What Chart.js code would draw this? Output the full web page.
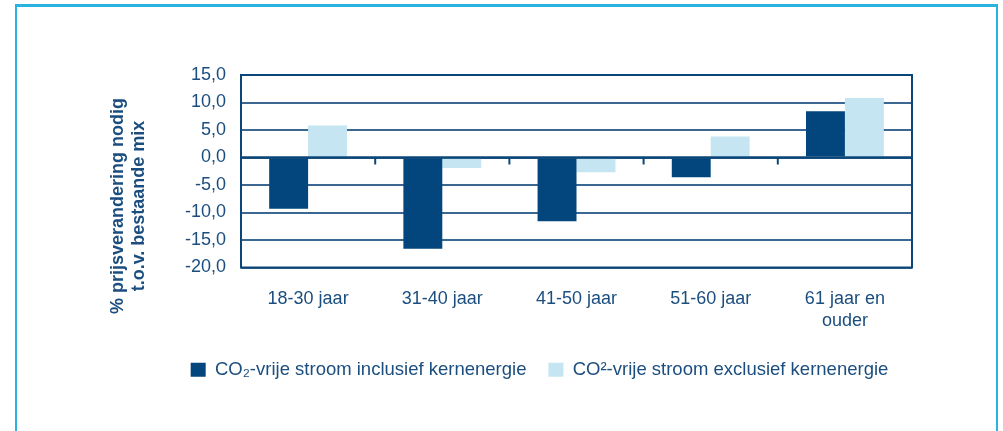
<!DOCTYPE html>
<html>
<head>
<meta charset="utf-8">
<script src="https://cdn.jsdelivr.net/npm/chart.js@4/dist/chart.umd.min.js"></script>
<style>
    body { margin: 0; background: #fff; }
    #wrap { position: relative; width: 1003px; height: 431px; }
    #frame {
        position: absolute; left: 15px; top: 4px; width: 983px; height: 427px;
        border-top: 3px solid #2bb3df; border-left: 2px solid #2bb3df; border-right: 2px solid #2bb3df;
        box-sizing: border-box;
    }
    #chart { position: absolute; left: 0; top: 0; }
</style>
</head>
<body>
<div id="wrap">
    <div id="frame"></div>
    <canvas id="chart" width="1003" height="431"></canvas>
</div>
<script>
const ageGroups = [['18-30 jaar'], ['31-40 jaar'], ['41-50 jaar'], ['51-60 jaar'], ['61 jaar en', 'ouder']];
const inclNuclear = [-9.3, -16.6, -11.6, -3.6, 8.4];
const exclNuclear = [5.8, -1.9, -2.7, 3.8, 10.8];
const seriesNames = ['CO\u2082-vrije stroom inclusief kernenergie', 'CO\u00b2-vrije stroom exclusief kernenergie'];
const yTitle = ['% prijsverandering nodig', 't.o.v. bestaande mix'];

const textColor = '#1b4e7f';
const lineColor = '#0b4679';
const fontFamily = '"Liberation Sans", Arial, sans-serif';

// zero line, plot frame, little ticks between the groups and the rotated y title
const extras = {
    id: 'extras',
    afterDatasetsDraw(chart) {
        const {ctx, chartArea: a, scales: {x, y}} = chart;
        const y0 = y.getPixelForValue(0);
        ctx.save();
        ctx.strokeStyle = lineColor;
        ctx.lineWidth = 2.5;
        ctx.beginPath();
        ctx.moveTo(a.left, y0);
        ctx.lineTo(a.right, y0);
        ctx.stroke();
        ctx.lineWidth = 2;
        for (let i = 0; i < ageGroups.length - 1; i++) {
            const bx = (x.getPixelForValue(i) + x.getPixelForValue(i + 1)) / 2;
            ctx.beginPath();
            ctx.moveTo(bx, y0);
            ctx.lineTo(bx, y0 + 7);
            ctx.stroke();
        }
        ctx.strokeRect(a.left, a.top, a.right - a.left, a.bottom - a.top);

        ctx.fillStyle = textColor;
        ctx.font = 'bold 18px ' + fontFamily;
        ctx.textAlign = 'center';
        ctx.textBaseline = 'middle';
        ctx.translate(0, 206);
        ctx.rotate(-Math.PI / 2);
        ctx.fillText(yTitle[0], 0, 118);
        ctx.fillText(yTitle[1], 0, 139);
        ctx.restore();
    }
};

new Chart(document.getElementById('chart'), {
    type: 'bar',
    data: {
        labels: ageGroups,
        datasets: [{
            label: seriesNames[0],
            data: inclNuclear,
            backgroundColor: '#02467d',
            categoryPercentage: 0.58,
            barPercentage: 1
        }, {
            label: seriesNames[1],
            data: exclNuclear,
            backgroundColor: '#c4e5f1',
            categoryPercentage: 0.58,
            barPercentage: 1
        }]
    },
    options: {
        responsive: false,
        animation: false,
        layout: {
            padding: {left: 167, right: 91, top: 75, bottom: 42}
        },
        plugins: {
            tooltip: {enabled: false},
            legend: {
                position: 'bottom',
                labels: {
                    boxWidth: 15,
                    boxHeight: 14,
                    padding: 22,
                    color: textColor,
                    font: {size: 18.5, family: fontFamily}
                }
            }
        },
        scales: {
            x: {
                grid: {display: false},
                border: {display: false},
                ticks: {
                    color: textColor,
                    padding: 12,
                    font: {size: 18, family: fontFamily, lineHeight: 1.25}
                },
                afterFit(scale) { scale.height = 71; }
            },
            y: {
                min: -20,
                max: 15,
                grid: {
                    color: '#3a6893',
                    lineWidth: 2,
                    drawTicks: false
                },
                border: {display: false},
                ticks: {
                    stepSize: 5,
                    autoSkip: false,
                    color: textColor,
                    padding: 15,
                    font: {size: 18, family: fontFamily},
                    callback: v => v.toFixed(1).replace('.', ',')
                },
                afterFit(scale) { scale.width = 74; }
            }
        }
    },
    plugins: [extras]
});
</script>
</body>
</html>
